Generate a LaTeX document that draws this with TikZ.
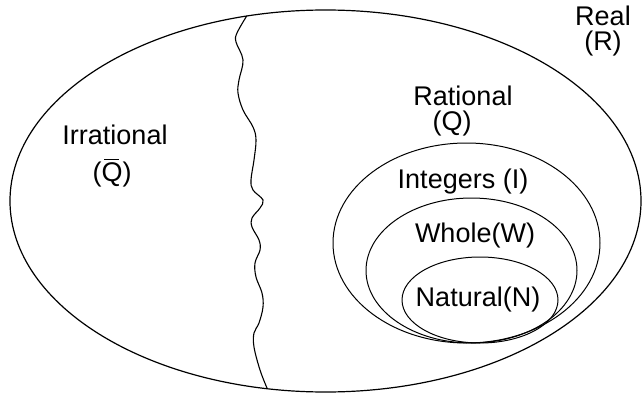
\documentclass[tikz,border=0pt]{standalone}
\usepackage{fontspec}
\setmainfont{Liberation Sans}
\newcommand{\barQ}{\rlap{\hspace{2.5pt}\raisebox{21.5pt}{\rule{15pt}{1.3pt}}}Q}
\begin{document}
\begin{tikzpicture}[x=1pt,y=-1pt,
  lbl/.style={inner sep=0pt,font=\fontsize{27}{25}\selectfont},
  setline/.style={line width=1pt,black}]
\useasboundingbox (0,0) rectangle (643,396);
% ellipses
\draw[setline,line width=1.2pt] (325.5,201) ellipse [x radius=315.5, y radius=191];
\draw[setline] (466.5,243) ellipse [x radius=133.5, y radius=100];
\draw[setline] (471.5,270.5) ellipse [x radius=105.5, y radius=72.5];
\draw[setline] (480,300) ellipse [x radius=78, y radius=43];
% wavy divider
\coordinate (wtop) at (246.7,16);
\coordinate (wbot) at (267,388);
\draw[line width=1.1pt] plot[smooth,tension=0.6] coordinates {
 (wtop) (237,33) (236,42) (243,60) (239,80) (238,93) (243,110) (253,127)
 (256,140) (254,160) (251,180) (253,190) (263,200) (260,208) (252,218)
 (252,227) (259,240) (260,250) (255,263) (256,277) (262,293) (263,307)
 (259,323) (254,333) (254,347) (260,370) (wbot)};
% labels
\node[lbl,align=center] (real) at (603,31) {Real\\(R)};
\node[lbl] (rat) at (463,96) {Rational};
\node[lbl] (ratq) at (452,124) {(Q)};
\node[lbl] (irr) at (115,135) {Irrational};
\node[lbl] (irrq) at (112,173) {(\barQ)};
\node[lbl] (int) at (463,182) {Integers (I)};
\node[lbl] (whole) at (475,236) {Whole(W)};
\node[lbl] (nat) at (478,300) {Natural(N)};
\end{tikzpicture}
\end{document}
